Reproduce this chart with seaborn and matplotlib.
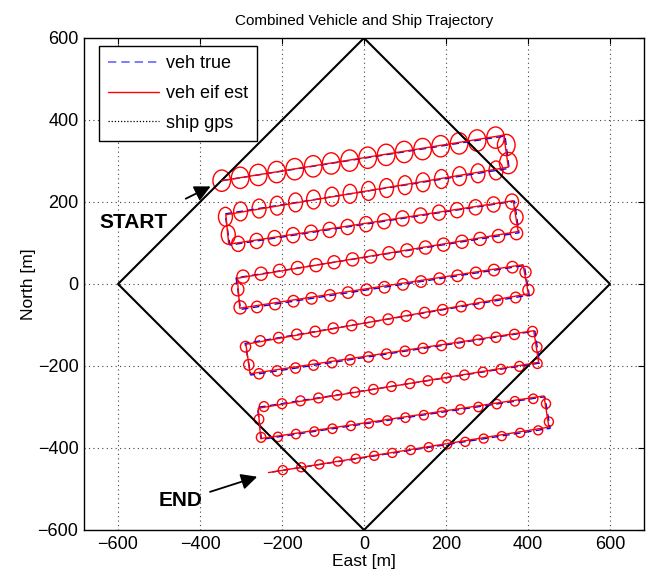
import matplotlib
matplotlib.use("Agg")
import matplotlib.pyplot as plt
from matplotlib.patches import Ellipse
from matplotlib.lines import Line2D
import seaborn as sns
import pandas as pd

# ---------------- data ----------------
ship_x = [0, 600, 0, -600, 0]
ship_y = [600, 0, -600, 0, 600]

true_x = [-347, 344, 354, -339, -327, 367, 378, -312, -301, 391, 403, -290, -276, 417, 428, -260, -250, 441, 454, -233]
true_y = [252, 361, 282, 171, 95, 202, 125, 15, -62, 45, -27, -145, -222, -115, -193, -301, -379, -275, -352, -460]

est_x = [-347, 341, 352, -337, -330, 364, 376, -309, -303, 388, 401, -288, -278, 414, 426, -258, -252, 439, 451, -233]
est_y = [252, 363, 285, 169, 97, 203, 128, 14, -59, 47, -24, -147, -219, -114, -191, -303, -377, -273, -349, -460]

row1_x = [-347, -302, -258, -213, -169, -124, -80, -35, 9, 54, 98, 143, 187, 232, 276, 321, 347, 352]
row1_y = [252, 259, 266, 273, 280, 287, 294, 301, 308, 315, 322, 329, 336, 343, 350, 357, 339, 295]
row2_x = [322, 278, 233, 189, 144, 100, 55, 11, -34, -78, -123, -167, -212, -256, -301, -338, -331]
row2_y = [277, 270, 263, 256, 248, 241, 234, 227, 220, 213, 206, 199, 191, 184, 177, 164, 120]
row3_x = [-307, -262, -218, -173, -129, -84, -40, 5, 49, 94, 138, 183, 227, 272, 316, 361, 372]
row3_y = [98, 105, 112, 119, 125, 132, 139, 146, 153, 160, 167, 174, 180, 187, 194, 201, 163]
row4_x = [372, 328, 283, 239, 194, 150, 105, 61, 16, -28, -73, -117, -162, -206, -251, -295, -308, -302]
row4_y = [124, 117, 110, 103, 96, 89, 82, 75, 67, 60, 53, 46, 39, 32, 25, 18, -13, -57]
row5_x = [-261, -217, -172, -128, -83, -39, 6, 50, 95, 139, 184, 228, 273, 317, 362, 394, 401]
row5_y = [-56, -49, -42, -35, -28, -21, -14, -8, -1, 6, 13, 20, 27, 34, 41, 29, -15]
row6_x = [370, 326, 281, 237, 192, 148, 103, 59, 14, -30, -75, -119, -164, -208, -253, -289, -281]
row6_y = [-33, -40, -48, -55, -63, -70, -78, -86, -93, -101, -108, -116, -123, -131, -139, -153, -197]
row7_x = [-256, -212, -167, -123, -78, -34, 11, 55, 100, 144, 189, 233, 278, 322, 367, 411, 422]
row7_y = [-219, -212, -205, -198, -192, -185, -178, -171, -164, -157, -150, -144, -137, -130, -123, -116, -154]
row8_x = [423, 379, 334, 290, 245, 201, 156, 112, 67, 23, -22, -66, -111, -155, -200, -244, -256, -251]
row8_y = [-194, -201, -208, -215, -222, -229, -236, -243, -250, -257, -264, -271, -278, -285, -292, -299, -330, -374]
row9_x = [-210, -166, -121, -77, -32, 12, 57, 101, 146, 190, 235, 279, 324, 368, 413, 444, 451]
row9_y = [-373, -366, -360, -353, -346, -340, -333, -326, -320, -313, -306, -300, -293, -286, -280, -292, -336]
row10_x = [425, 381, 336, 292, 247, 203, 158, 114, 69, 25, -20, -64, -109, -153, -198]
row10_y = [-357, -363, -371, -377, -385, -391, -398, -405, -412, -419, -426, -433, -440, -447, -454]

ell_w = [43, 34, 32, 30, 27, 25, 24, 23, 22, 22]
ell_h = [52, 46, 37, 32, 28, 26, 25, 24, 23, 22]

x_ticks = [-600, -400, -200, 0, 200, 400, 600]
y_ticks = [-600, -400, -200, 0, 200, 400, 600]

legend_labels = ["veh true", "veh eif est", "ship gps"]

# ---------------- plot ----------------
sns.set_style("white")
plt.rcParams["font.family"] = ["Liberation Sans", "DejaVu Sans"]
plt.rcParams["text.color"] = "black"
plt.rcParams["axes.labelcolor"] = "black"
plt.rcParams["xtick.color"] = "black"
plt.rcParams["ytick.color"] = "black"

fig = plt.figure(figsize=(6.48, 5.75), dpi=100)
ax = fig.add_axes([84 / 648, 45 / 575, 560 / 648, 492 / 575])

sns.lineplot(x=ship_x, y=ship_y, sort=False, estimator=None, color="black",
             lw=1.5, ax=ax, legend=False)
sns.lineplot(x=true_x, y=true_y, sort=False, estimator=None, color="blue",
             lw=1.0, linestyle="--", dashes=False, ax=ax, legend=False)
ax.lines[-1].set_linestyle((0, (5, 3)))
sns.lineplot(x=est_x, y=est_y, sort=False, estimator=None, color="red",
             lw=1.0, ax=ax, legend=False)

rows_x = [row1_x, row2_x, row3_x, row4_x, row5_x, row6_x, row7_x, row8_x, row9_x, row10_x]
rows_y = [row1_y, row2_y, row3_y, row4_y, row5_y, row6_y, row7_y, row8_y, row9_y, row10_y]
for rx, ry, w, h in zip(rows_x, rows_y, ell_w, ell_h):
    for cx, cy in zip(rx, ry):
        ax.add_patch(Ellipse((cx, cy), w, h, fill=False, edgecolor="red", lw=1.0))

ax.set_xlim(-683, 683)
ax.set_ylim(-600, 600)
ax.set_xticks(x_ticks)
ax.set_yticks(y_ticks)
ax.grid(True, linestyle=(0, (1, 3)), color="#444444", lw=0.8)
ax.tick_params(direction="in", top=True, right=True, length=4, width=0.8,
               labelsize=13, pad=4, color="black", labelcolor="black")
for s in ax.spines.values():
    s.set_color("black")
    s.set_linewidth(1.0)

ax.set_title("Combined Vehicle and Ship Trajectory", fontsize=11, pad=9, color="black")
ax.set_xlabel("East [m]", fontsize=12.5, labelpad=1, color="black")
ax.set_ylabel("North [m]", fontsize=12.5, labelpad=1, color="black")

ax.annotate("", xy=(-368, 241), xytext=(-441, 205),
            arrowprops=dict(arrowstyle="-|>", color="black", lw=1.3, mutation_scale=24))
ax.text(-480, 151, "START", fontsize=15, fontweight="bold", ha="right", va="center", color="black")
ax.annotate("", xy=(-254, -468), xytext=(-382, -509),
            arrowprops=dict(arrowstyle="-|>", color="black", lw=1.3, mutation_scale=24))
ax.text(-393, -527, "END", fontsize=15, fontweight="bold", ha="right", va="center", color="black")

handles = [
    Line2D([0], [0], color=(0.4, 0.4, 1.0), lw=1.2, linestyle=(0, (5, 3))),
    Line2D([0], [0], color="red", lw=1.0),
    Line2D([0], [0], color="black", lw=0.9, linestyle=(0, (1, 1.5))),
]
leg = ax.legend(handles, legend_labels, loc="upper left",
                bbox_to_anchor=(0.027, 0.983), fontsize=13, frameon=True,
                fancybox=False, framealpha=1, edgecolor="black",
                handlelength=2.8, handletextpad=0.4, labelspacing=0.7,
                borderpad=0.5, borderaxespad=0.0)
leg.get_frame().set_linewidth(1.0)
for t in leg.get_texts():
    t.set_color("black")

fig.savefig("out.png", dpi=100)
